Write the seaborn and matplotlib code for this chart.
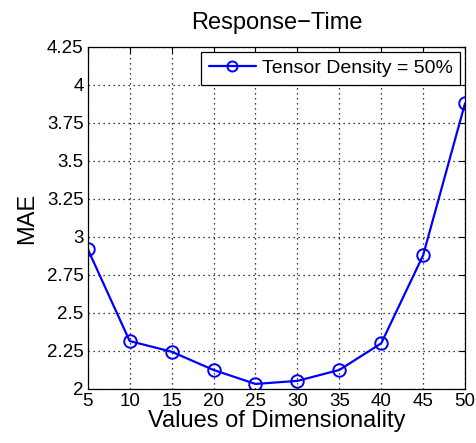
import matplotlib
matplotlib.use("Agg")
import matplotlib.pyplot as plt
import seaborn as sns
import pandas as pd

dims = [5, 10, 15, 20, 25, 30, 35, 40, 45, 50]
mae = [2.92, 2.315, 2.245, 2.125, 2.033, 2.053, 2.125, 2.30, 2.88, 3.88]
xticks = [5, 10, 15, 20, 25, 30, 35, 40, 45, 50]
yticks = [2, 2.25, 2.5, 2.75, 3, 3.25, 3.5, 3.75, 4, 4.25]
ytick_labels = ["2", "2.25", "2.5", "2.75", "3", "3.25", "3.5", "3.75", "4", "4.25"]

sns.set_style("white")
plt.rcParams["font.family"] = ["Liberation Sans", "DejaVu Sans"]
plt.rcParams["text.color"] = "black"
plt.rcParams["axes.labelcolor"] = "black"
plt.rcParams["xtick.color"] = "black"
plt.rcParams["ytick.color"] = "black"

df = pd.DataFrame({"dim": dims, "mae": mae})
fig = plt.figure(figsize=(4.77, 4.43), dpi=100)
ax = fig.add_axes([0.184, 0.122, 0.791, 0.772])
sns.lineplot(data=df, x="dim", y="mae", ax=ax, color="#0000ff", linewidth=1.6,
             marker="o", markersize=9, markerfacecolor="none",
             markeredgecolor="#0000ff", markeredgewidth=1.4,
             label="Tensor Density = 50%")
ax.set_xlim(5, 50)
ax.set_ylim(2, 4.25)
ax.set_xticks(xticks)
ax.set_xticklabels([str(x) for x in xticks])
ax.set_yticks(yticks)
ax.set_yticklabels(ytick_labels)
ax.tick_params(axis="both", labelsize=13.5, direction="in", length=4, color="black",
               top=True, right=True, pad=3)
ax.grid(True, color="black", linestyle=(0, (1, 3)), linewidth=0.9)
for s in ax.spines.values():
    s.set_color("black")
    s.set_linewidth(0.9)
ax.set_xlabel("Values of Dimensionality", fontsize=17, labelpad=0)
ax.set_ylabel("MAE", fontsize=17, labelpad=6)
ax.set_title("Response\u2212Time", fontsize=17, pad=13)
leg = ax.legend(loc="upper right", fontsize=14, frameon=True, fancybox=False,
                borderaxespad=0.25, handlelength=2.4, handletextpad=0.3,
                borderpad=0.4, markerscale=0.8)
leg.get_frame().set_edgecolor("black")
leg.get_frame().set_linewidth(0.9)
leg.get_frame().set_alpha(1)
fig.savefig("out.png", dpi=100)
